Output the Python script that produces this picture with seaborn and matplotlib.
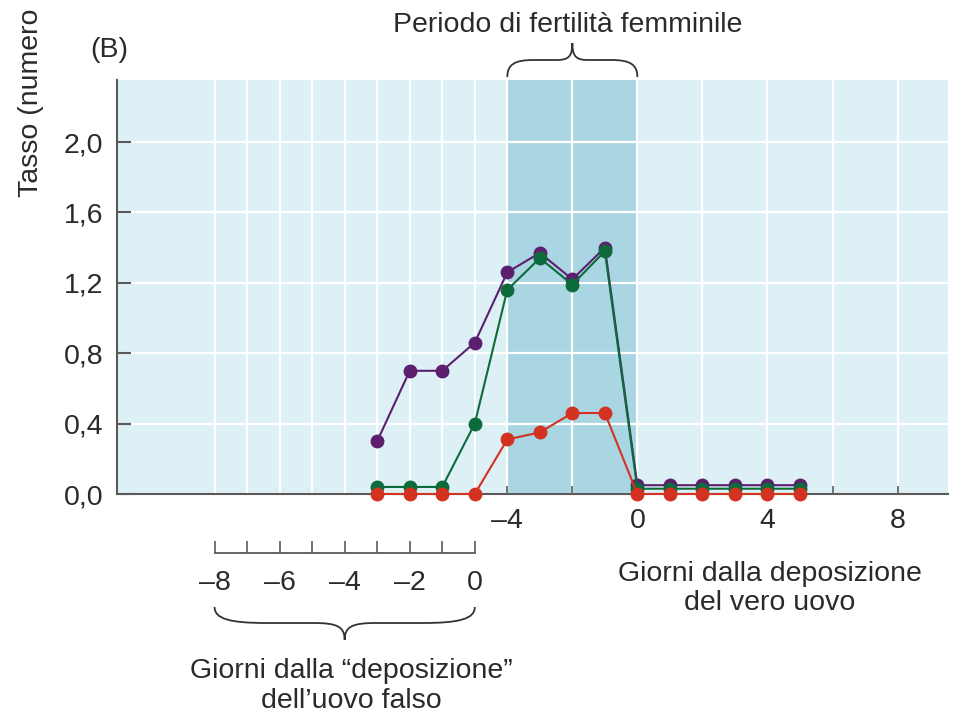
import numpy as np
import pandas as pd
import matplotlib
matplotlib.use("Agg")
import matplotlib.pyplot as plt
import matplotlib.transforms as mtransforms
from matplotlib.path import Path
from matplotlib.patches import PathPatch
import seaborn as sns

# ---------------- data ----------------
days = [-8, -7, -6, -5, -4, -3, -2, -1, 0, 1, 2, 3, 4, 5]  # days from true egg laying
purple_vals = [0.30, 0.70, 0.70, 0.86, 1.26, 1.37, 1.22, 1.40, 0.05, 0.05, 0.05, 0.05, 0.05, 0.05]
green_vals = [0.04, 0.04, 0.04, 0.40, 1.16, 1.34, 1.19, 1.38, 0.03, 0.03, 0.03, 0.03, 0.03, 0.03]
red_vals = [0.00, 0.00, 0.00, 0.00, 0.31, 0.35, 0.46, 0.46, 0.00, 0.00, 0.00, 0.00, 0.00, 0.00]
series_names = ["viola", "verde", "rosso"]
series_colors = ["#5b1f6e", "#0d6a3a", "#d2321f"]

y_ticks = [0.0, 0.4, 0.8, 1.2, 1.6, 2.0]
y_ticklabels = ["0,0", "0,4", "0,8", "1,2", "1,6", "2,0"]
x_ticks = [-4, -2, 0, 2, 4, 6, 8]
x_ticklabels = ["\u20134", "", "0", "", "4", "", "8"]
fake_offset = 5  # fake-egg day = true day + 5
fake_ticks = [-8, -6, -4, -2, 0]
fake_ticklabels = ["\u20138", "\u20136", "\u20134", "\u20132", "0"]
fake_minor = [-7, -5, -3, -1]
fertile_period = (-4, 0)

df = pd.DataFrame({
    "giorno": days * 3,
    "tasso": purple_vals + green_vals + red_vals,
    "serie": sum([[n] * len(days) for n in series_names], []),
})

# ---------------- style ----------------
sns.set_theme(style="white")
plt.rcParams["font.family"] = ["Liberation Sans", "DejaVu Sans"]
TXT = "#2a2a2a"
AXC = "#5a5a5a"
BG = "#dcf0f6"
BAND = "#a9d6e2"
FS = 20.5

W, H = 961, 713
fig = plt.figure(figsize=(W / 100, H / 100), dpi=100)
L, R, B, T = 117, 948, 494, 80
ax = fig.add_axes([L / W, 1 - B / H, (R - L) / W, (B - T) / H])
ax.set_facecolor(BG)

XLIM = (-16.0, 9.55)
ax.set_xlim(*XLIM)
ax.set_ylim(0, (B - T) / 176.0)

ax.axvspan(*fertile_period, color=BAND, zorder=0.2, lw=0)

sns.lineplot(data=df, x="giorno", y="tasso", hue="serie", hue_order=series_names,
             palette=series_colors, marker="o", markersize=10, markeredgewidth=0,
             linewidth=1.5, legend=False, ax=ax, zorder=3, clip_on=False)

ax.set_xticks(x_ticks)
ax.set_xticklabels(x_ticklabels)
ax.set_xticks([f - fake_offset for f in range(-8, 1)], minor=True)
ax.set_yticks(y_ticks)
ax.set_yticklabels(y_ticklabels)
ax.set_axisbelow(True)
ax.grid(True, which="both", axis="x", color="white", lw=1.6)
ax.grid(True, which="major", axis="y", color="white", lw=1.6)

ax.tick_params(axis="x", which="major", bottom=True, direction="in", length=6, width=1.2,
               color=AXC, pad=10, labelsize=FS, labelcolor=TXT)
ax.tick_params(axis="x", which="minor", bottom=False, length=0)
ax.tick_params(axis="y", left=True, direction="in", length=10, width=1.5, color=AXC,
               pad=10, labelsize=FS, labelcolor=TXT)
for s in ["top", "right"]:
    ax.spines[s].set_visible(False)
for s in ["left", "bottom"]:
    ax.spines[s].set_color(AXC)
    ax.spines[s].set_linewidth(1.5)
ax.set_xlabel("")
ax.set_ylabel("")

# ---------------- fake-egg axis ----------------
yf = 553
ax2 = fig.add_axes([L / W, 1 - yf / H, (R - L) / W, 0.0001])
ax2.set_xlim(XLIM[0] + fake_offset, XLIM[1] + fake_offset)
ax2.patch.set_visible(False)
for s in ["top", "right", "left"]:
    ax2.spines[s].set_visible(False)
ax2.spines["bottom"].set_bounds(fake_ticks[0], fake_ticks[-1])
ax2.spines["bottom"].set_color(AXC)
ax2.spines["bottom"].set_linewidth(1.3)
ax2.set_yticks([])
ax2.set_xticks(fake_ticks)
ax2.set_xticklabels(fake_ticklabels)
ax2.set_xticks(fake_minor, minor=True)
ax2.tick_params(axis="x", which="both", bottom=True, direction="in", length=9, width=1.2,
                color=AXC)
ax2.tick_params(axis="x", which="major", pad=12, labelsize=FS, labelcolor=TXT)


# ---------------- braces ----------------
def brace(x0, x1, ybase, dy_sh, dy_tip):
    """Curly brace: x in data coords, y in pixels (from top)."""
    trans = mtransforms.blended_transform_factory(ax.transData, fig.transFigure)
    w = x1 - x0

    def P(u, dv):
        return (x0 + u * w, 1 - (ybase + dv) / H)

    verts = [P(0, 0),
             P(0, 0.75 * dy_sh), P(0.06, dy_sh), P(0.2, dy_sh),
             P(0.38, dy_sh),
             P(0.47, dy_sh), P(0.5, dy_sh + 0.2 * (dy_tip - dy_sh)), P(0.5, dy_tip),
             P(0.5, dy_sh + 0.2 * (dy_tip - dy_sh)), P(0.53, dy_sh), P(0.62, dy_sh),
             P(0.8, dy_sh),
             P(0.94, dy_sh), P(1, 0.75 * dy_sh), P(1, 0)]
    codes = [Path.MOVETO,
             Path.CURVE4, Path.CURVE4, Path.CURVE4,
             Path.LINETO,
             Path.CURVE4, Path.CURVE4, Path.CURVE4,
             Path.CURVE4, Path.CURVE4, Path.CURVE4,
             Path.LINETO,
             Path.CURVE4, Path.CURVE4, Path.CURVE4]
    fig.add_artist(PathPatch(Path(verts, codes), transform=trans, fill=False,
                             ec="#333333", lw=1.3, clip_on=False))


brace(fertile_period[0], fertile_period[1], 77, -17, -34)
brace(fake_ticks[0] - fake_offset, fake_ticks[-1] - fake_offset, 607, 16, 33)

# ---------------- texts ----------------
def ftext(x, y, s, **kw):
    fig.text(x / W, 1 - y / H, s, fontsize=FS, color=TXT, **kw)


ftext(109, 57, "(B)", ha="center", va="baseline")
ftext(31, 197, "Tasso (numero", rotation=90, ha="center", va="bottom")
ftext(568, 32, "Periodo di fertilità femminile", ha="center", va="baseline")
ftext(770, 581, "Giorni dalla deposizione", ha="center", va="baseline")
ftext(770, 610, "del vero uovo", ha="center", va="baseline")
ftext(351, 678, "Giorni dalla \u201cdeposizione\u201d", ha="center", va="baseline")
ftext(351, 708, "dell\u2019uovo falso", ha="center", va="baseline")

fig.savefig("out.png", dpi=100)
